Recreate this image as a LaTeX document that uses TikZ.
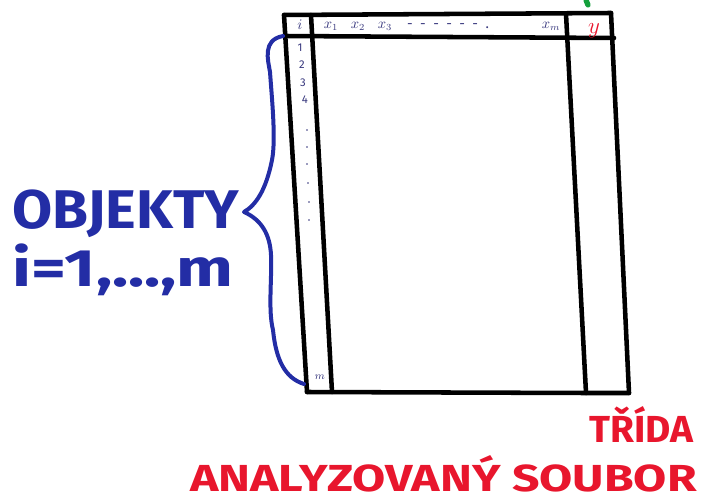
\documentclass[tikz,border=0pt]{standalone}
\usepackage{fontspec}
\setmainfont{Fira Sans}
\newfontfamily\markerfont{Fira Sans}[UprightFont={* Bold}]
\definecolor{mblue}{RGB}{35,45,165}
\definecolor{mred}{RGB}{232,22,45}
\definecolor{navy}{RGB}{55,55,125}
\definecolor{mgreen}{RGB}{20,160,60}
\tikzset{
  frame/.style={line width=3.4pt, black, line cap=round, line join=round},
  bracepen/.style={line width=3pt, mblue, line cap=round, line join=round},
  hdr/.style={text=navy, inner sep=0pt, font=\fontsize{10.5}{10.5}\selectfont},
  rowno/.style={text=navy, inner sep=0pt, font=\fontsize{8.5}{8.5}\selectfont},
  dotmark/.style={fill=navy, circle, inner sep=0pt, minimum size=1.4pt},
  bluelabel/.style={text=mblue, inner sep=0pt, font=\markerfont},
  redlabel/.style={text=mred, inner sep=0pt, font=\markerfont},
}
\begin{document}
\begin{tikzpicture}[x=0.75pt,y=-0.75pt]
\useasboundingbox (0,0) rectangle (717,502);
% corners of the table
\coordinate (tl) at (284,15);
\coordinate (tr) at (611,13);
\coordinate (bl) at (307,392);
\coordinate (br) at (629,393);
\coordinate (hl) at (285,36);
\coordinate (hr) at (614,38);
\coordinate (ct) at (311,15);
\coordinate (cb) at (332,392);
\coordinate (kt) at (566,14);
\coordinate (kb) at (586,393);
% frame
\draw[frame] (tl) -- (tr);
\draw[frame] (tl) -- (bl);
\draw[frame] (tr) -- (br);
\draw[frame] (hl) -- (hr);
\draw[frame] (ct) -- (cb);
\draw[frame] (kt) -- (kb);
\draw[frame] (bl) -- (kb) -- (br);
% header texts
\node[hdr] (hi) at (300,25) {$i$};
\node[hdr] (x1) at (331,26) {$x_1$};
\node[hdr] (x2) at (358,26) {$x_2$};
\node[hdr] (x3) at (385,26) {$x_3$};
\node[hdr] (xd) at (448,26) {-\ \ -\ \ -\ \ -\ \ -\ \ -\ \ .};
\node[hdr] (xm) at (551,26) {$x_m$};
\node[text=mred, inner sep=0pt, font=\fontsize{19}{19}\selectfont] (yy) at (594,31) {$y$};
% row numbers
\node[rowno] (r1) at (300,48) {1};
\node[rowno] (r2) at (302,65) {2};
\node[rowno] (r3) at (303,83) {3};
\node[rowno] (r4) at (305,100) {4};
\node[dotmark] (d1) at (307,130) {};
\node[dotmark] (d2) at (307,147) {};
\node[dotmark] (d3) at (307,164) {};
\node[dotmark] (d4) at (308,183) {};
\node[dotmark] (d5) at (309,202) {};
\node[dotmark] (d6) at (309,220) {};
\node[rowno] (rm) at (320,377) {$m$};
% brace
\coordinate (b0) at (283,36);
\coordinate (b1) at (270,72);
\coordinate (b2) at (272,160);
\coordinate (bx) at (244,212);
\coordinate (b3) at (271,255);
\coordinate (b4) at (273,330);
\coordinate (b5) at (304,384);
\draw[bracepen] (b0) .. controls (262,40) and (268,60) .. (b1)
  .. controls (272,100) and (276,140) .. (b2)
  .. controls (266,190) and (256,205) .. (bx)
  .. controls (262,220) and (270,235) .. (b3)
  .. controls (272,280) and (268,310) .. (b4)
  .. controls (276,360) and (285,378) .. (b5);
% left labels
\node[bluelabel, anchor=south west] (obj) at (12,238) {\resizebox{170pt}{29pt}{OBJEKTY}};
\node[bluelabel, anchor=south west] (idx) at (12,296) {\resizebox{166pt}{32pt}{i=1,...,m}};
% red labels
\node[redlabel, anchor=south west] (trida) at (589,443) {\resizebox{78pt}{27pt}{TŘÍDA}};
\node[redlabel, anchor=south west] (soubor) at (190,492) {\resizebox{380pt}{27pt}{ANALYZOVANÝ SOUBOR}};
% green fragment at top edge
\draw[mgreen, line width=4pt, line cap=round] (586,0) -- (588,5);
\end{tikzpicture}
\end{document}
